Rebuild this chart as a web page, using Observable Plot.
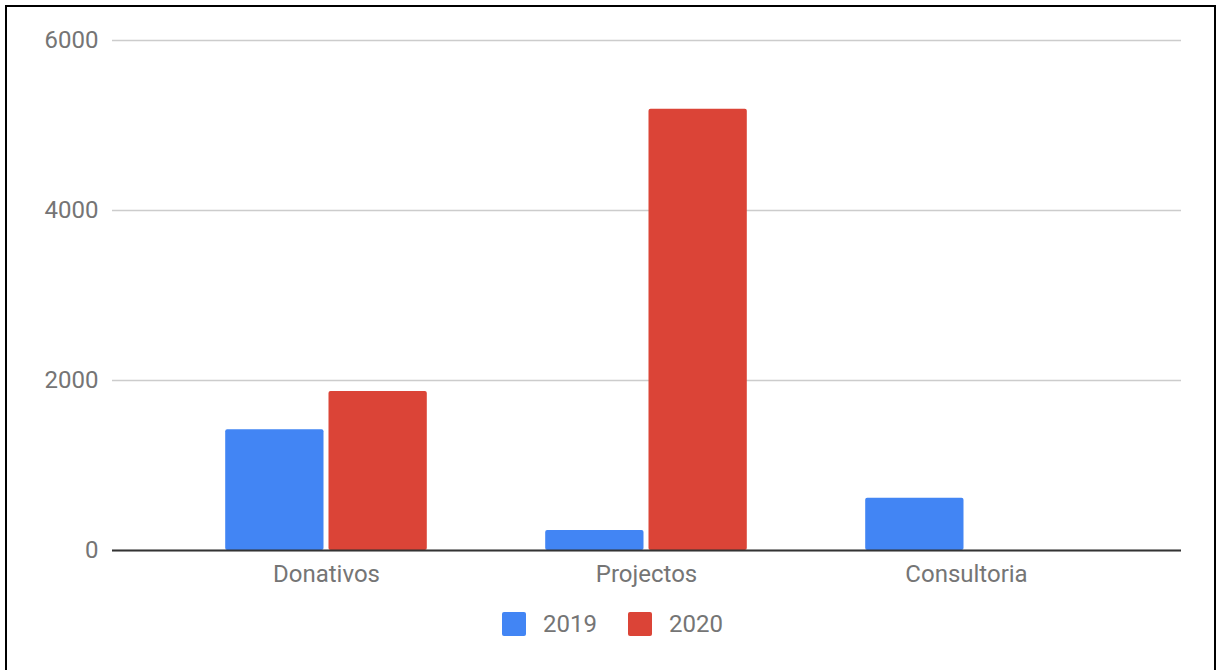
<!DOCTYPE html>
<html>
<head>
<meta charset="utf-8">
<script src="https://cdn.jsdelivr.net/npm/d3@7"></script>
<script src="https://cdn.jsdelivr.net/npm/@observablehq/plot@0.6"></script>
<style>
  html, body { margin: 0; padding: 0; background: #fff; overflow: hidden; }
  body { width: 1217px; height: 670px; position: relative; font-family: Roboto, sans-serif; }
  #frame { position: absolute; left: 5px; top: 5px; width: 1211px; height: 700px; border: 2.5px solid #000; box-sizing: border-box; }
  #chart { position: absolute; left: 0; top: 0; }
  #legend { position: absolute; left: 502px; top: 612px; display: flex; align-items: center; font-size: 24px; color: #757575; }
  .sw { width: 24px; height: 24px; border-radius: 2px; }
  .lab { margin-left: 17px; margin-right: 31px; line-height: 24px; }
</style>
</head>
<body>
<div id="frame"></div>
<div id="chart"></div>
<div id="legend"></div>
<script>
const categories = ["Donativos", "Projectos", "Consultoria"];
const years = ["2019", "2020"];
const values2019 = [1420, 235, 615];
const values2020 = [1870, 5190, 0];
const yTicks = [0, 2000, 4000, 6000];
const colors = ["#4285f4", "#db4437"];

const data2019 = categories.map((c, i) => ({category: c, value: values2019[i]}));
const data2020 = categories.map((c, i) => ({category: c, value: values2020[i]}));

const paddingInner = 0.37;
const step = 320;
const bw = step * (1 - paddingInner);
const gap = 5;
const inset = (bw + gap) / 2;

const chart = Plot.plot({
  width: 1217,
  height: 595,
  marginLeft: 112,
  marginRight: 36,
  marginTop: 40,
  marginBottom: 45,
  style: {fontFamily: "Roboto, sans-serif", fontSize: "24px", color: "#757575", background: "transparent"},
  x: {domain: categories, range: [166, 1126], paddingInner: paddingInner, paddingOuter: paddingInner / 2, round: false, label: null},
  y: {domain: [0, 6000], label: null},
  marks: [
    Plot.gridY(yTicks, {stroke: "#cccccc", strokeOpacity: 1, strokeWidth: 1.3}),
    Plot.barY(data2019, {x: "category", y: "value", fill: colors[0], insetRight: inset, rx: 2}),
    Plot.barY(data2020.filter(d => d.value > 0), {x: "category", y: "value", fill: colors[1], insetLeft: inset, rx: 2}),
    Plot.ruleY([0], {stroke: "#333333", strokeWidth: 2.2}),
    Plot.axisY(yTicks, {tickSize: 0, tickPadding: 14, fill: "#757575", fontSize: 24, tickFormat: d => String(d), label: null}),
    Plot.axisX({tickSize: 0, tickPadding: 14, fill: "#757575", fontSize: 24, label: null})
  ]
});
document.getElementById("chart").appendChild(chart);

const legend = document.getElementById("legend");
years.forEach((y, i) => {
  const sw = document.createElement("div");
  sw.className = "sw";
  sw.style.background = colors[i];
  const lab = document.createElement("div");
  lab.className = "lab";
  lab.textContent = y;
  legend.appendChild(sw);
  legend.appendChild(lab);
});
</script>
</body>
</html>
